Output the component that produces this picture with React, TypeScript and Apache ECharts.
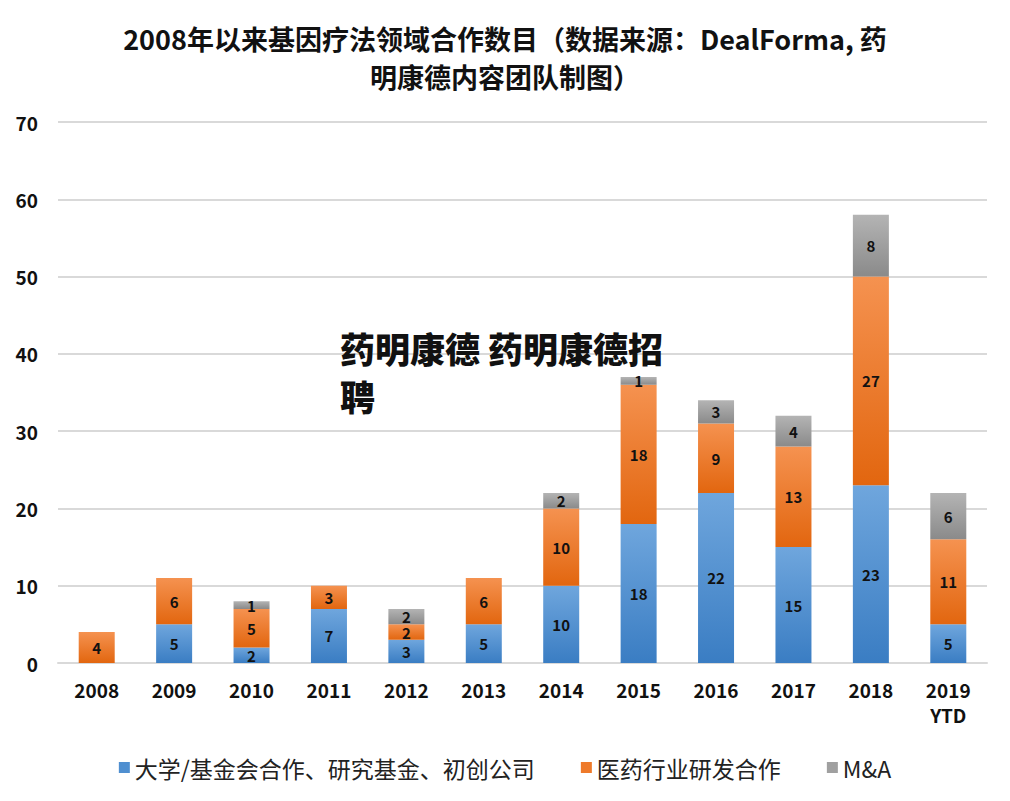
import React, { useEffect, useRef } from "react";
import * as echarts from "echarts";

const categories = ["2008", "2009", "2010", "2011", "2012", "2013", "2014", "2015", "2016", "2017", "2018", "2019\nYTD"];
const academic = [0, 5, 2, 7, 3, 5, 10, 18, 22, 15, 23, 5];
const pharma = [4, 6, 5, 3, 2, 6, 10, 18, 9, 13, 27, 11];
const mna = [0, 0, 1, 0, 2, 0, 2, 1, 3, 4, 8, 6];
const seriesNames = ["大学/基金会合作、研究基金、初创公司", "医药行业研发合作", "M&A"];
const yTicks = { min: 0, max: 70, interval: 10 };

const FONT = "'Noto Sans CJK SC', 'Noto Sans', sans-serif";

function grad(top: string, bottom: string) {
  return new echarts.graphic.LinearGradient(0, 0, 0, 1, [
    { offset: 0, color: top },
    { offset: 1, color: bottom },
  ]);
}

export default function App() {
  const ref = useRef<HTMLDivElement>(null);
  useEffect(() => {
    if (!ref.current) return;
    const chart = echarts.init(ref.current, null, { renderer: "svg" });
    const label = {
      show: true,
      position: "inside",
      color: "#111",
      fontWeight: "bold",
      fontSize: 15,
      lineHeight: 13,
      fontFamily: FONT,
      formatter: (p: any) => (p.value ? String(p.value) : ""),
    };
    const mk = (name: string, data: number[], top: string, bottom: string) => ({
      name,
      type: "bar",
      stack: "total",
      barWidth: 36,
      data,
      label,
      itemStyle: { color: grad(top, bottom) },
      emphasis: { disabled: true },
    });
    const wm = {
      fontFamily: FONT,
      fontWeight: 900,
      fontSize: 35,
      lineHeight: 35,
      fill: "#111",
    };
    chart.setOption({
      animation: false,
      backgroundColor: "#fff",
      title: {
        text: "2008年以来基因疗法领域合作数目（数据来源：DealForma, 药\n明康德内容团队制图）",
        left: "center",
        top: 14,
        textStyle: { fontFamily: FONT, fontWeight: "bold", fontSize: 27, color: "#111", lineHeight: 38 },
      },
      legend: {
        bottom: 17,
        left: "center",
        itemWidth: 11,
        itemHeight: 11,
        itemGap: 46,
        icon: "rect",
        textStyle: { fontFamily: FONT, fontSize: 23, color: "#222" },
        data: [
          { name: seriesNames[0], itemStyle: { color: "#4F8FD0" } },
          { name: seriesNames[1], itemStyle: { color: "#EE7A2A" } },
          { name: seriesNames[2], itemStyle: { color: "#A0A0A0" } },
        ],
      },
      grid: { left: 58, right: 23, top: 122, bottom: 138 },
      xAxis: {
        type: "category",
        data: categories,
        axisTick: { show: false },
        axisLine: { lineStyle: { color: "#d9d9d9", width: 2 } },
        axisLabel: { fontFamily: FONT, fontWeight: "bold", fontSize: 19, color: "#111", margin: 14, lineHeight: 25 },
      },
      yAxis: {
        type: "value",
        min: yTicks.min,
        max: yTicks.max,
        interval: yTicks.interval,
        axisLine: { show: false },
        axisTick: { show: false },
        splitLine: { lineStyle: { color: "#d9d9d9", width: 2 } },
        axisLabel: { fontFamily: FONT, fontWeight: "bold", fontSize: 19, color: "#111", margin: 20 },
      },
      graphic: [
        {
          type: "rect",
          left: 0,
          top: 0,
          shape: { width: 1009, height: 800 },
          style: { fill: "none", stroke: "#dcdcdc", lineWidth: 4 },
          silent: true,
        },
        {
          type: "text",
          left: 340,
          top: 330,
          z: 100,
          style: { ...wm, text: "药明康德 药明康德招" },
        },
        {
          type: "text",
          left: 340,
          top: 378,
          z: 100,
          style: { ...wm, text: "聘" },
        },
      ],
      series: [
        mk(seriesNames[0], academic, "#6FA6DD", "#3A7DC3"),
        mk(seriesNames[1], pharma, "#F59250", "#E2660F"),
        mk(seriesNames[2], mna, "#B4B4B4", "#8A8A8A"),
      ],
    });
    return () => chart.dispose();
  }, []);
  return <div ref={ref} style={{ width: 1010, height: 801, margin: -8 }} />;
}
